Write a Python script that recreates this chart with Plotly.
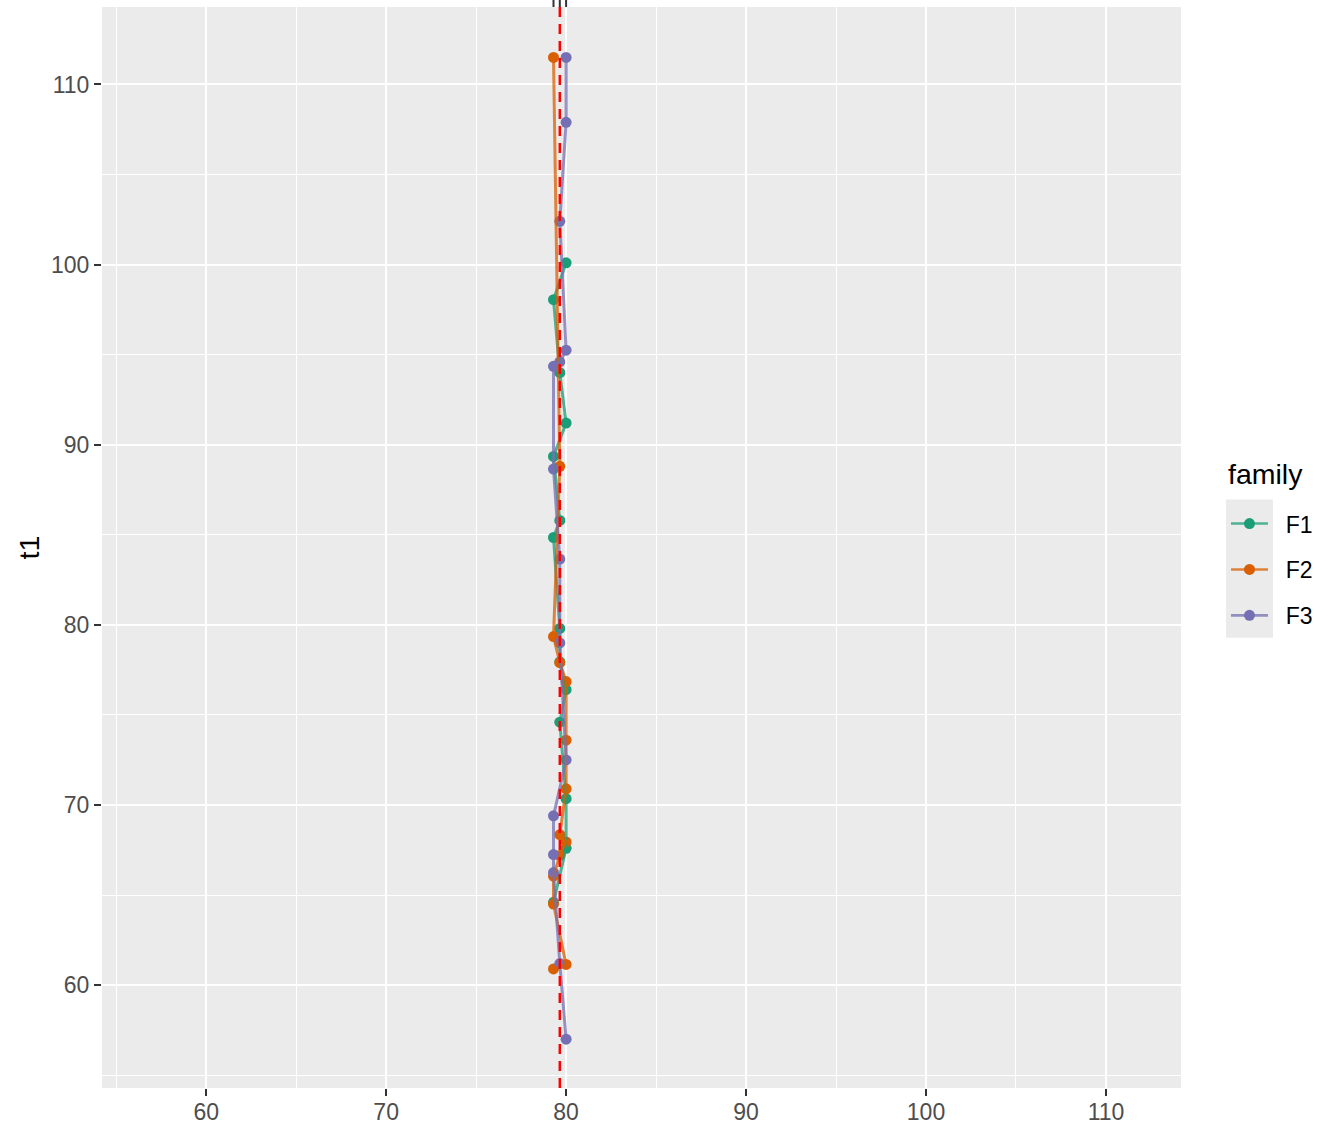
import numpy as np
import plotly.graph_objects as go

# three x levels the points sit on, and their mean (red dashed line)
x_levels = [79.3, 79.65, 80.0]
x_mean = 79.65

families = ["F1", "F2", "F3"]
colors = ["#1B9E77", "#D95F02", "#7570B3"]
line_colors = ["rgba(27,158,119,0.75)", "rgba(217,95,2,0.75)", "rgba(117,112,179,0.75)"]

f1_t1 = [64.6, 67.6, 70.35, 74.6, 76.4, 77.95, 79.8, 84.85, 85.8, 89.35, 91.2, 94.0, 98.05, 100.1]
f1_x = [79.3, 80.0, 80.0, 79.65, 80.0, 79.65, 79.65, 79.3, 79.65, 79.3, 80.0, 79.65, 79.3, 80.0]

f2_t1 = [60.9, 61.15, 64.5, 66.05, 67.2, 67.95, 68.35, 70.9, 73.6, 76.85, 77.9, 79.35, 88.8, 111.5]
f2_x = [79.3, 80.0, 79.3, 79.3, 79.65, 80.0, 79.65, 80.0, 80.0, 80.0, 79.65, 79.3, 79.65, 79.3]

f3_t1 = [57.0, 61.2, 66.25, 67.25, 69.4, 72.5, 79.0, 83.65, 88.65, 94.35, 94.6, 95.25, 102.4, 107.9, 111.5]
f3_x = [80.0, 79.65, 79.3, 79.3, 79.3, 80.0, 79.65, 79.65, 79.3, 79.3, 79.65, 80.0, 79.65, 80.0, 80.0]

data = [(f1_x, f1_t1), (f2_x, f2_t1), (f3_x, f3_t1)]

FONT = "Liberation Sans, Arial, sans-serif"

fig = go.Figure()

# points first
for (xs, ys), name, col in zip(data, families, colors):
    fig.add_trace(go.Scatter(
        x=xs, y=ys, mode="markers", legendgroup=name, showlegend=False,
        marker=dict(color=col, size=11), hoverinfo="skip"
    ))

# paths drawn over the points, ordered by t1
for (xs, ys), name, col in zip(data, families, line_colors):
    order = np.argsort(ys)
    fig.add_trace(go.Scatter(
        x=np.array(xs)[order], y=np.array(ys)[order], mode="lines",
        legendgroup=name, showlegend=False,
        line=dict(color=col, width=3), hoverinfo="skip"
    ))

# legend entries
for name, col, lcol in zip(families, colors, line_colors):
    fig.add_trace(go.Scatter(
        x=[None], y=[None], mode="lines+markers", name="\u00a0\u00a0" + name, legendgroup=name,
        marker=dict(color=col, size=11), line=dict(color=lcol, width=2.6)
    ))

fig.add_vline(x=x_mean, line=dict(color="red", width=2.5, dash="10px,7px"))

# short dark marks above the panel at each x level
for xv in x_levels:
    fig.add_shape(type="line", xref="x", yref="paper", x0=xv, x1=xv, y0=1.0, y1=1.0065,
                  line=dict(color="#333333", width=2))

# grey legend key background
fig.add_shape(type="rect", xref="paper", yref="paper", x0=1.0417, x1=1.0853, y0=0.4165, y1=0.5445,
              fillcolor="#EBEBEB", line=dict(width=0), layer="below")

fig.add_annotation(text="family", xref="paper", yref="paper", x=1.0417, y=0.568,
                   xanchor="left", yanchor="middle", showarrow=False,
                   font=dict(family=FONT, size=28.5, color="black"))

axis_common = dict(
    showgrid=True, gridcolor="white", gridwidth=2.2,
    minor=dict(dtick=5, showgrid=True, gridcolor="white", gridwidth=1.1, ticks=""),
    dtick=10, ticks="outside", ticklen=7, tickwidth=2, tickcolor="#333333",
    tickfont=dict(family=FONT, size=23, color="#4D4D4D"),
    zeroline=False, showline=False, automargin=False,
)

fig.update_layout(
    width=1317, height=1124,
    paper_bgcolor="white", plot_bgcolor="#EBEBEB",
    margin=dict(l=102, r=136, t=7, b=36, autoexpand=False),
    font=dict(family=FONT, color="black"),
    xaxis=dict(range=[54.21, 114.17], ticklabelstandoff=-4, **axis_common),
    yaxis=dict(range=[54.29, 114.3], title=dict(text="t1", font=dict(family=FONT, size=28.5), standoff=3),
               **axis_common),
    legend=dict(
        font=dict(family=FONT, size=23),
        x=1.0417, xanchor="left", y=0.5420, yanchor="top",
        bgcolor="rgba(0,0,0,0)", tracegroupgap=13, itemwidth=37,
    ),
    showlegend=True,
)

fig.write_html("out.html", config={"displayModeBar": False},
               post_script="document.body.style.margin='0';")
